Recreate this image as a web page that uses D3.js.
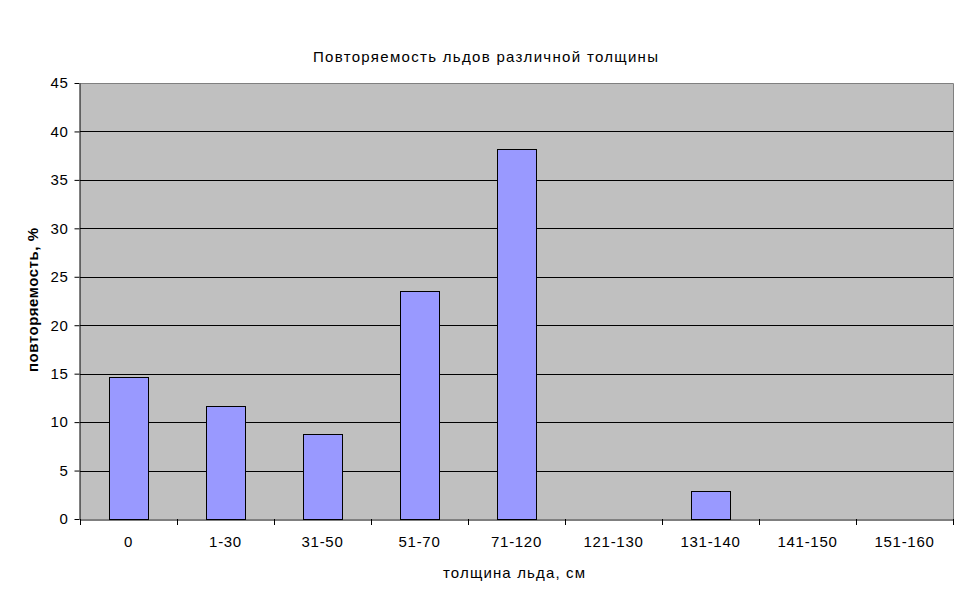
<!DOCTYPE html>
<html><head><meta charset="utf-8">
<script src="https://cdn.jsdelivr.net/npm/d3@7"></script>
<style>body{margin:0;background:#fff}text{font-family:"Liberation Sans",Arial,sans-serif}</style>
</head><body>
<svg id="c" width="969" height="603"></svg>
<script>
const categories = ["0","1-30","31-50","51-70","71-120","121-130","131-140","141-150","151-160"];
const values = [14.7, 11.7, 8.8, 23.5, 38.2, 0, 2.9, 0, 0];
const yTicks = [0,5,10,15,20,25,30,35,40,45];
const titleText = "Повторяемость льдов различной толщины";
const xTitle = "толщина льда, см";
const yTitle = "повторяемость, %";

const svg = d3.select("#c");
const L=80, R=953, T=83, B=519;
const x = d3.scaleBand().domain(categories).range([L,R]).paddingInner(0).paddingOuter(0);
const y = d3.scaleLinear().domain([0,45]).range([B,T]);

svg.append("rect").attr("x",L).attr("y",T).attr("width",R-L).attr("height",B-T).attr("fill","#c0c0c0");
svg.append("g").selectAll("line").data(yTicks.filter(d=>d>0)).join("line")
  .attr("x1",L).attr("x2",R).attr("y1",d=>Math.round(y(d))+0.5).attr("y2",d=>Math.round(y(d))+0.5)
  .attr("stroke","#000").attr("stroke-width",1);
svg.append("path").attr("d",`M${L},${T+0.5}H${R+0.5}V${B}`).attr("fill","none").attr("stroke","#808080").attr("stroke-width",1);

const bw = x.bandwidth()*0.4;
svg.append("g").selectAll("rect").data(categories.map((c,i)=>({c,v:values[i]})).filter(d=>d.v>0)).join("rect")
  .attr("x",d=>Math.round(x(d.c)+x.bandwidth()/2-bw/2)+0.5)
  .attr("y",d=>Math.round(y(d.v))+0.5)
  .attr("width",Math.round(bw))
  .attr("height",d=>Math.round(y(0))-Math.round(y(d.v)))
  .attr("fill","#9999ff").attr("stroke","#000").attr("stroke-width",1);

const ya = svg.append("g").attr("transform",`translate(${L-0.5},0)`)
  .call(d3.axisLeft(y).tickValues(yTicks).tickSize(5).tickPadding(6).tickSizeOuter(0));
ya.select(".domain").attr("stroke","#000");
ya.selectAll(".tick line").attr("stroke","#000");
ya.selectAll("text").attr("font-size",15).attr("font-family","Liberation Sans, Arial").attr("fill","#000").attr("letter-spacing",0.6);

const xa = svg.append("g").attr("transform",`translate(0,${B+0.5})`)
  .call(d3.axisBottom(x).tickSize(0).tickPadding(17).tickSizeOuter(0));
xa.select(".domain").attr("stroke","#000");
xa.selectAll("text").attr("font-size",15).attr("font-family","Liberation Sans, Arial").attr("fill","#000").attr("letter-spacing",0.7);
const bounds = categories.map(c=>x(c)).concat([R]);
svg.append("g").selectAll("line").data(bounds).join("line")
  .attr("x1",d=>Math.round(d)+0.5).attr("x2",d=>Math.round(d)+0.5).attr("y1",B).attr("y2",B+6)
  .attr("stroke","#000");

svg.append("text").attr("x",485.5).attr("y",62).attr("text-anchor","middle").attr("font-size",15)
  .attr("textLength",345).attr("lengthAdjust","spacing").text(titleText);
svg.append("text").attr("x",514).attr("y",578).attr("text-anchor","middle").attr("font-size",15)
  .attr("textLength",142).attr("lengthAdjust","spacing").text(xTitle);
svg.append("text").attr("transform",`translate(38,300) rotate(-90)`).attr("text-anchor","middle").attr("font-size",15).attr("font-weight","bold")
  .attr("textLength",144).attr("lengthAdjust","spacing").text(yTitle);
</script>
</body></html>
